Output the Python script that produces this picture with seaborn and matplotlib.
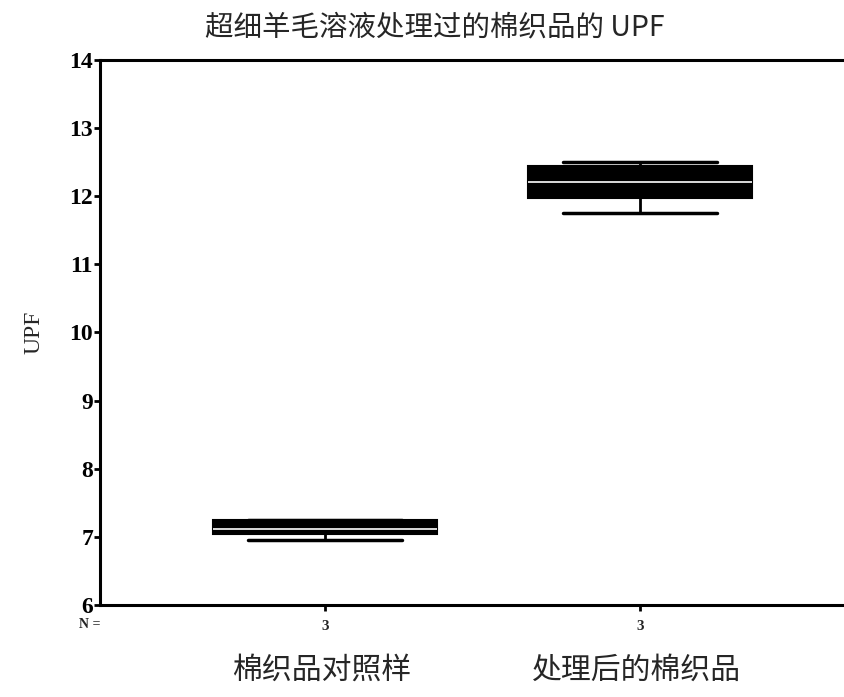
import matplotlib
matplotlib.use("Agg")
import matplotlib.pyplot as plt
import seaborn as sns
import pandas as pd

# ---- data (five-number summaries: min, Q1, median, Q3, max)
categories = ["棉织品对照样", "处理后的棉织品"]
control_summary = [6.95, 7.04, 7.12, 7.25, 7.25]
treated_summary = [11.76, 11.97, 12.21, 12.44, 12.50]
n_labels = ["3", "3"]
y_ticks = [6, 7, 8, 9, 10, 11, 12, 13, 14]
title = "超细羊毛溶液处理过的棉织品的 UPF"
y_label = "UPF"

df = pd.DataFrame({
    "group": [categories[0]] * len(control_summary) + [categories[1]] * len(treated_summary),
    "UPF": control_summary + treated_summary,
})

sns.set_theme(style="ticks")
plt.rcParams["font.family"] = ["Noto Sans CJK SC", "DejaVu Sans"]

fig = plt.figure(figsize=(8.44, 6.97), dpi=100)
ax = fig.add_axes([0.1185, 0.132, 0.8815, 0.782])

sns.boxplot(
    data=df, x="group", y="UPF", order=categories, ax=ax,
    width=0.71, whis=(0, 100), fill=True, color="black",
    boxprops=dict(facecolor="black", edgecolor="black", linewidth=1.5),
    medianprops=dict(color="white", linewidth=1.2),
    whiskerprops=dict(color="black", linewidth=2),
    capprops=dict(color="black", linewidth=2.5),
    capwidths=0.49,
)

ax.set_xlim(-0.714, 1.648)
ax.set_ylim(6, 14)
ax.set_yticks(y_ticks)
ax.set_yticklabels([str(t) for t in y_ticks], family="Liberation Serif",
                   fontweight="bold", fontsize=17)
ax.tick_params(axis="y", direction="out", length=4, width=2, pad=1, colors="black")
ax.tick_params(axis="x", direction="out", length=4, width=2, colors="black")
ax.set_xticks([0, 1])
ax.set_xticklabels(["", ""])
ax.set_xlabel("")
ax.set_ylabel(y_label, family="Liberation Serif", fontsize=17, labelpad=18)

for side in ["left", "bottom", "top"]:
    ax.spines[side].set_linewidth(2.2)
    ax.spines[side].set_color("black")
ax.spines["right"].set_visible(False)

fig.text(435 / 844, 1 - 27 / 697, title, ha="center", va="center", fontsize=20.5)

trans = ax.get_xaxis_transform()
ax.text(-0.78, -0.035, "N =", transform=trans, ha="left", va="center",
        family="Liberation Serif", fontweight="bold", fontsize=10)
for i, n in enumerate(n_labels):
    ax.text(i, -0.04, n, transform=trans, ha="center", va="center",
            family="Liberation Serif", fontweight="bold", fontsize=11)
    ax.text(i - 0.01, -0.12, categories[i], transform=trans, ha="center", va="center",
            fontsize=21.5)

fig.savefig("out.png", dpi=100, facecolor="white")
